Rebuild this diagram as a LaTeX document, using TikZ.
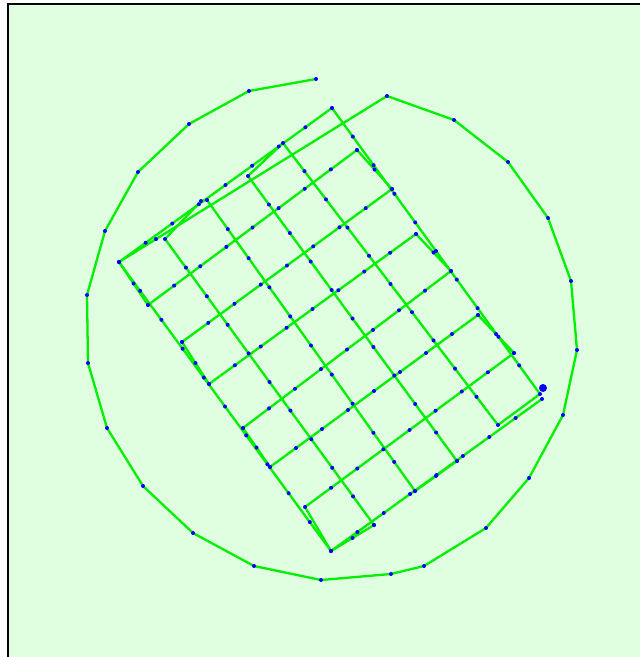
\documentclass[tikz,border=0pt]{standalone}
\usepackage{tikz}
\usetikzlibrary{calc}
\definecolor{fieldbg}{RGB}{224,255,224}
\definecolor{pathgreen}{RGB}{0,238,0}
\definecolor{wpblue}{RGB}{0,0,255}
\tikzset{
  flightpath/.style={
    draw=pathgreen, line width=2.3pt, line join=round
  },
  wpdot/.style={fill=wpblue},
  homedot/.style={fill=wpblue},
  mapframe/.style={draw=black, line width=1.4pt},
}

\begin{document}
\begin{tikzpicture}[x=1pt, y=-1pt]
    \useasboundingbox (0,0) rectangle (640,657);
    \fill[fieldbg] (8,4) rectangle (640,657);
    \draw[mapframe] (8,657) -- (8,4) -- (640,4);

    %% Orbit
    \foreach \name/\pos in {c1/{387,96}, c2/{454,120}, c3/{508,162}, c4/{548,218},
        c5/{571,281}, c6/{577,350}, c7/{563,415}, c8/{529,478}, c9/{486,528},
        c10/{424,566}, c11/{391,574}, c12/{321,580}, c13/{254,566}, c14/{193,533},
        c15/{143,486}, c16/{107,428}, c17/{88,363}, c18/{87,295}, c19/{105,231},
        c20/{138,172}, c21/{189,124}, c22/{249,91}, c23/{316,79}}
      \coordinate (\name) at (\pos);

    %% Grid corners and line ends
    \coordinate (tl) at (119,262);
    \coordinate (tr) at (332,108);
    \coordinate (bl) at (331,551);
    \coordinate (a1l) at (148,305);  \coordinate (a1r) at (357,150);
    \coordinate (a2r) at (392,189);  \coordinate (a2l) at (182,342);
    \coordinate (a3l) at (209,384);  \coordinate (a3r) at (416,234);
    \coordinate (a4r) at (451,271);  \coordinate (a4l) at (243,428);
    \coordinate (a5l) at (270,467);  \coordinate (a5r) at (478,315);
    \coordinate (a6r) at (514,353);  \coordinate (a6l) at (305,507);
    \coordinate (a7r) at (542,399);
    \coordinate (b1b) at (374,525);  \coordinate (b1t) at (165,239);
    \coordinate (b2t) at (207,200);  \coordinate (b2b) at (415,491);
    \coordinate (b3b) at (457,461);  \coordinate (b3t) at (248,176);
    \coordinate (b4t) at (283,143);  \coordinate (b4b) at (498,425);
    \coordinate (b5b) at (540,394);
    \coordinate (k1) at (201,201);
    \coordinate (home) at (543,388);

    %% Orbit and transit
    \draw[flightpath] (c23) -- (c22) -- (c21) -- (c20) -- (c19) -- (c18) -- (c17)
      -- (c16) -- (c15) -- (c14) -- (c13) -- (c12) -- (c11) -- (c10) -- (c9)
      -- (c8) -- (c7) -- (c6) -- (c5) -- (c4) -- (c3) -- (c2) -- (c1) -- (tl);

    %% Long legs
    \draw[flightpath] (tl) -- (bl) -- (b1b) -- (b1t) -- (k1) -- (b2t) -- (b2b)
      -- (b3b) -- (b3t) -- (b4t) -- (b4b) -- (b5b) -- (tr);

    %% Short legs
    \draw[flightpath] (tr) -- (tl) -- (a1l) -- (a1r) -- (a2r) -- (a2l) -- (a3l)
      -- (a3r) -- (a4r) -- (a4l) -- (a5l) -- (a5r) -- (a6r) -- (a6l) -- (bl)
      -- (a7r);

    %% Waypoints
    \foreach \i in {1,...,23}
      \fill[wpdot] (c\i) circle (2pt);
    \fill[wpdot] ($(c1)!0.862!(tl)$) circle (2pt);
    \foreach \a/\b/\n in {tl/bl/10, b1b/b1t/10, b2t/b2b/10, b3b/b3t/10,
        b4t/b4b/10, b5b/tr/10, tr/tl/8, a1l/a1r/8, a2r/a2l/8, a3l/a3r/8,
        a4r/a4l/8, a5l/a5r/8, a6r/a6l/8, bl/a7r/8, bl/b1b/2, b2b/b3b/2,
        a1r/a2r/2, a3r/a4r/2, a5r/a6r/2, tl/a1l/2, a2l/a3l/2, a4l/a5l/2}
      \foreach \k in {0,...,\n}
        \fill[wpdot] ($(\a)!\k/\n!(\b)$) circle (2pt);
    \fill[wpdot] (k1) circle (2pt);
    \fill[homedot] (home) circle (4pt);
\end{tikzpicture}
\end{document}
